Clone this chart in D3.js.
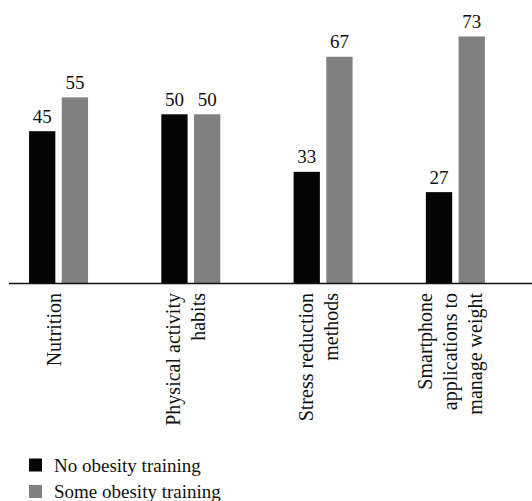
<!DOCTYPE html>
<html>
<head>
<meta charset="utf-8">
<script src="https://cdn.jsdelivr.net/npm/d3@7"></script>
<style>
  html, body { margin: 0; padding: 0; background: #fff; }
  svg { display: block; }
</style>
</head>
<body>
<svg id="chart" width="532" height="501" style="font-family: 'Liberation Serif', serif;"></svg>
<script>
const categories = ["Nutrition", "Physical activity habits", "Stress reduction methods", "Smartphone applications to manage weight"];
const categoryLines = [["Nutrition"], ["Physical activity", "habits"], ["Stress reduction", "methods"], ["Smartphone", "applications to", "manage weight"]];
const seriesNames = ["No obesity training", "Some obesity training"];
const noTraining = [45, 50, 33, 27];
const someTraining = [55, 50, 67, 73];
const seriesColors = ["#050505", "#808080"];

const svg = d3.select("#chart");
const baseY = 283.5;

const x0 = d3.scaleBand().domain(categories).range([-7.6, 521.5])
  .paddingInner(0.554).paddingOuter(0.277);
const x1 = d3.scaleBand().domain(seriesNames).range([0, x0.bandwidth()]).paddingInner(0.196);
const y = d3.scaleLinear().domain([0, 80]).range([baseY, baseY - 80 * 3.384]);

const seriesData = [noTraining, someTraining];
const rows = [];
categories.forEach((c, i) => {
  seriesNames.forEach((s, j) => rows.push({ cat: c, series: s, value: seriesData[j][i], color: seriesColors[j] }));
});

svg.append("g").selectAll("rect").data(rows).join("rect")
  .attr("x", d => x0(d.cat) + x1(d.series))
  .attr("y", d => y(d.value))
  .attr("width", x1.bandwidth())
  .attr("height", d => y(0) - y(d.value))
  .attr("fill", d => d.color);

svg.append("g").selectAll("text").data(rows).join("text")
  .attr("x", d => x0(d.cat) + x1(d.series) + x1.bandwidth() / 2)
  .attr("y", d => y(d.value) - 8.5)
  .attr("text-anchor", "middle")
  .style("font-family", "Times New Roman")
  .style("font-size", "19px")
  .style("fill", "#111")
  .text(d => d.value);

svg.append("line")
  .attr("x1", 9).attr("x2", 532)
  .attr("y1", baseY).attr("y2", baseY)
  .attr("stroke", "#111").attr("stroke-width", 1.3);

const lh = 25;
categories.forEach((c, i) => {
  const lines = categoryLines[i];
  const cx = x0(c) + x0.bandwidth() / 2;
  const t = svg.append("text")
    .attr("transform", `translate(${cx},${baseY + 9.5}) rotate(-90)`)
    .attr("text-anchor", "end")
    .style("font-family", "Liberation Serif")
    .style("font-size", "20px")
    .style("fill", "#111");
  lines.forEach((ln, k) => {
    t.append("tspan").attr("x", 0)
      .attr("y", (k - (lines.length - 1) / 2) * lh + 2)
      .text(ln);
  });
});

const legend = svg.append("g");
seriesNames.forEach((s, j) => {
  const ly = 458.5 + j * 26.5;
  legend.append("rect").attr("x", 29).attr("y", ly).attr("width", 13).attr("height", 13)
    .attr("fill", seriesColors[j]);
  legend.append("text").attr("x", 54).attr("y", ly + 13)
    .style("font-family", "serif").style("font-size", "19px").style("fill", "#111").text(s);
});
</script>
</body>
</html>
